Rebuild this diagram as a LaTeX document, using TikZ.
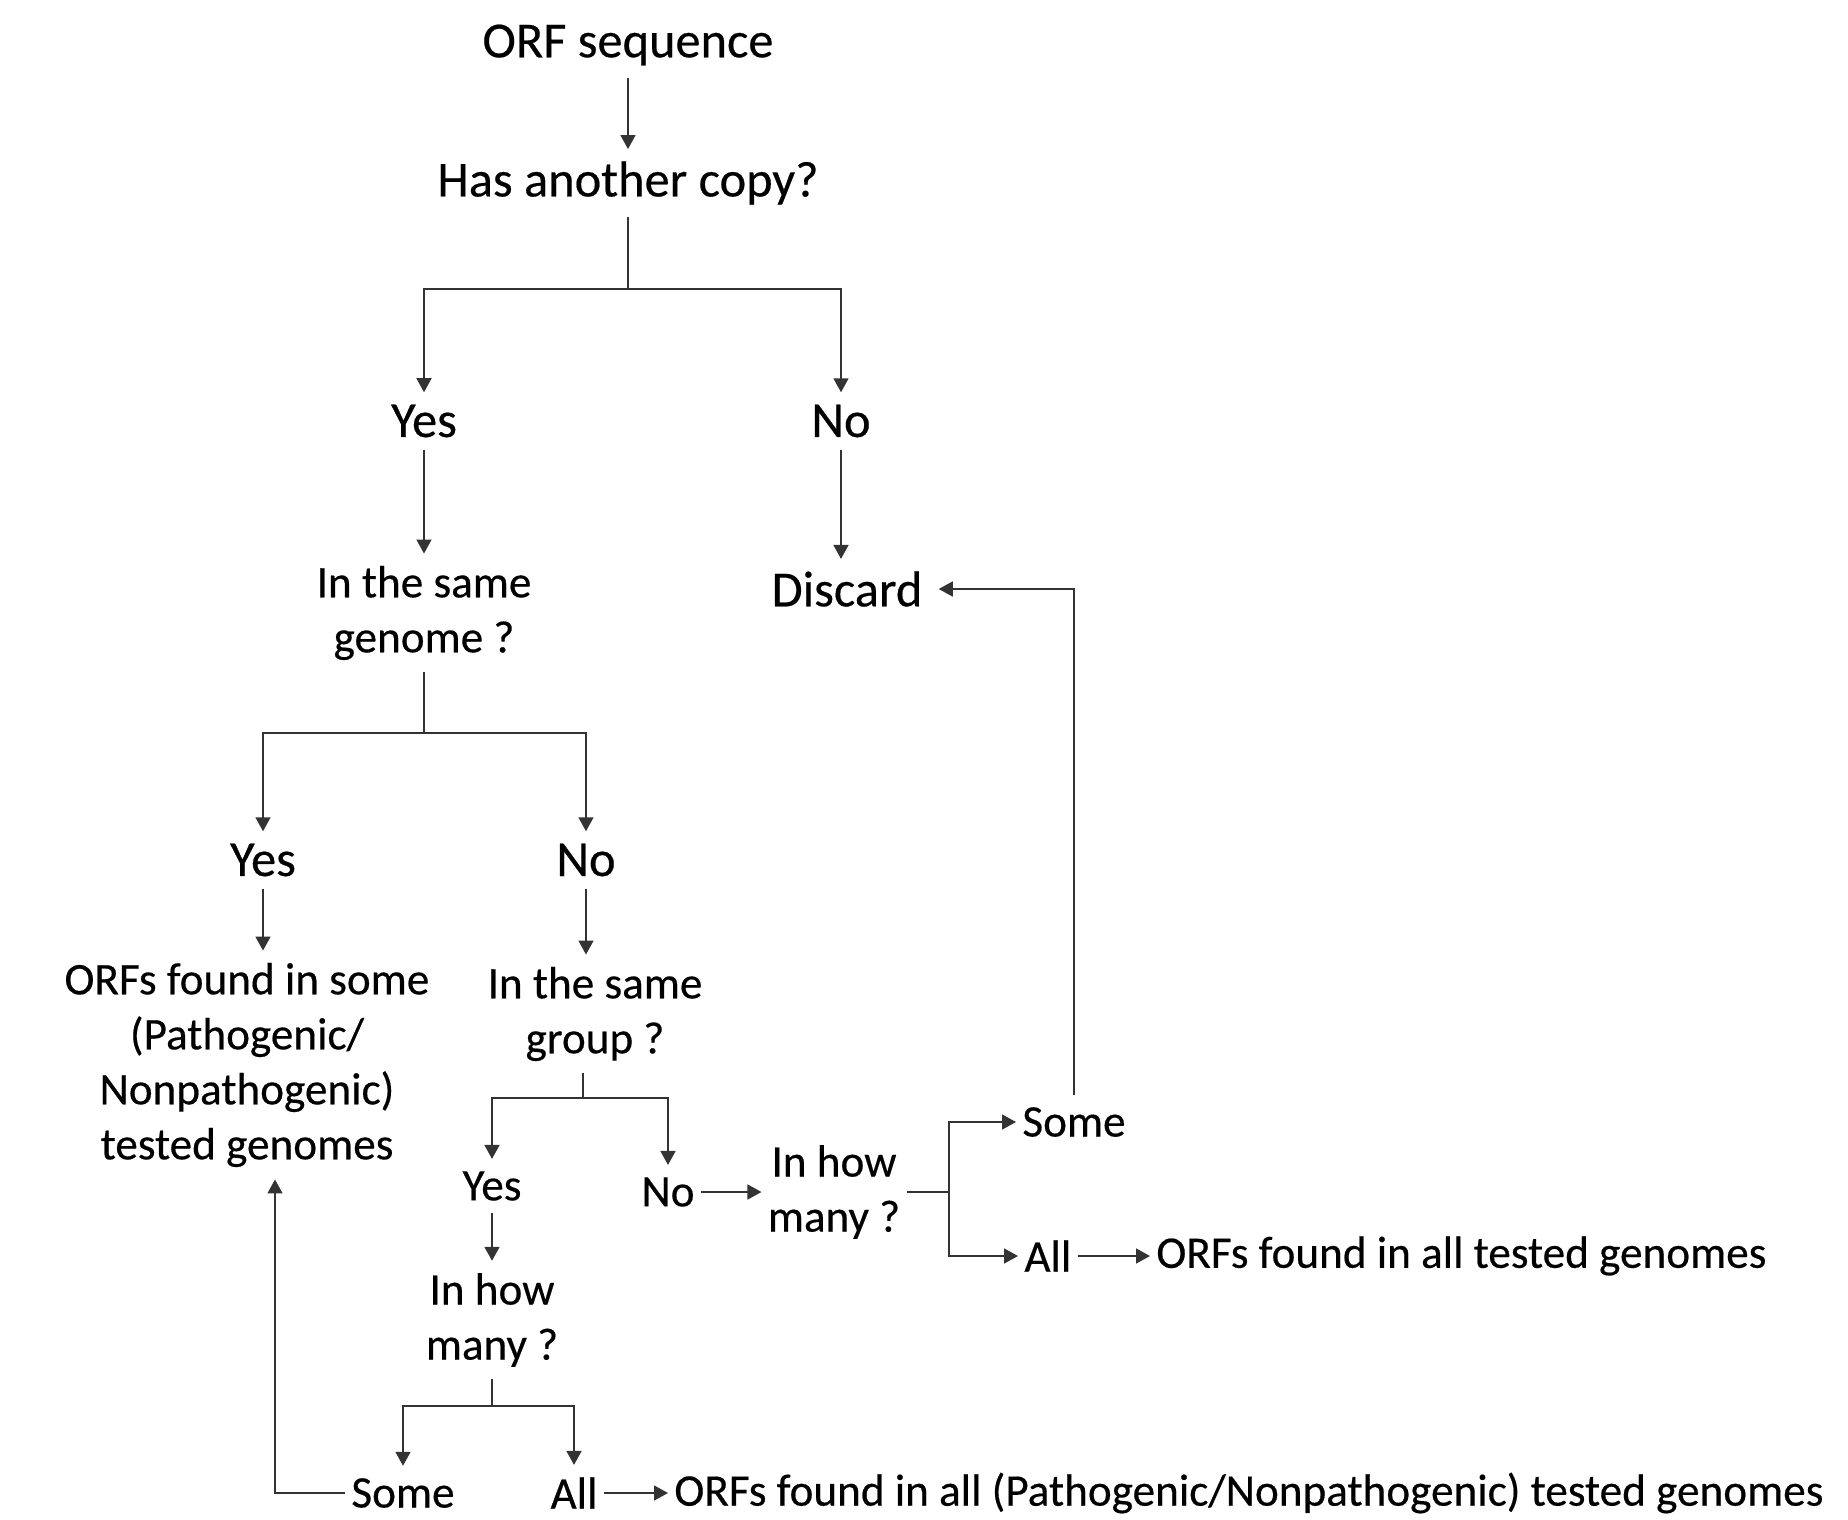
\documentclass[tikz,border=0pt]{standalone}
\usepackage{fontspec}
\setmainfont{Carlito}[FakeBold=0.4]
\usepackage{tikz}
\usetikzlibrary{arrows.meta, positioning}

\begin{document}
\begin{tikzpicture}[x=0.5pt, y=-0.5pt,
  lbl/.style={font=\fontsize{22.6}{27.5}\selectfont, inner xsep=3pt, inner ysep=6pt, align=center},
  biglbl/.style={lbl, font=\fontsize{25.2}{30}\selectfont},
  arr/.style={line, -{Triangle[length=7pt, width=7.5pt]}},
  line/.style={line width=0.8pt, draw=black!80}]
  \useasboundingbox (0,0) rectangle (1848,1520);

  % Top of the tree
  \node[biglbl] (orf) at (628,45) {ORF sequence};
  \node[biglbl] (copy) at (628,183) {Has another copy?};
  \node[biglbl] (yes1) at (424,421) {Yes};
  \node[biglbl] (no1) at (841,421) {No};
  \node[lbl] (genome) at (424,613) {In the same\\genome ?};
  \node[biglbl] (discard) at (847,589) {Discard};

  % Same genome branch
  \node[biglbl] (yes2) at (263,860) {Yes};
  \node[biglbl] (no2) at (586,860) {No};
  \node[lbl] (somegen) at (247,1065) {ORFs found in some\\(Pathogenic/\\Nonpathogenic)\\tested genomes};
  \node[lbl] (group) at (595,1014) {In the same\\group ?};

  % Same group branch
  \node[lbl] (yes3) at (492,1186) {Yes};
  \node[lbl] (no3) at (668,1192) {No};
  \node[lbl] (many1) at (834,1192) {In how\\many ?};
  \node[lbl, anchor=west] (some1) at (1016,1122) {Some};
  \node[lbl, anchor=west] (all1) at (1018,1256) {All};
  \node[lbl, anchor=west] (allgen) at (1150,1256) {ORFs found in all tested genomes};
  \node[lbl] (many2) at (492,1320) {In how\\many ?};
  \node[lbl] (some2) at (403,1493) {Some};
  \node[lbl] (all2) at (574,1493) {All};
  \node[lbl, anchor=west] (allpath) at (668,1493) {ORFs found in all (Pathogenic/Nonpathogenic) tested genomes};

  % Junctions
  \coordinate (j1) at (628,289);
  \coordinate (j2) at (424,733);
  \coordinate (j3) at (583,1098);
  \coordinate (j4) at (492,1406);
  \coordinate (j5) at (949,1192);

  % Connectors
  \draw[arr] (orf) -- (copy);
  \draw[line] (copy) -- (j1);
  \draw[arr] (j1) -| (yes1);
  \draw[arr] (j1) -| (no1);
  \draw[arr] (yes1) -- (genome);
  \draw[arr] (no1) -- (no1 |- discard.north);
  \draw[line] (genome) -- (j2);
  \draw[arr] (j2) -| (yes2);
  \draw[arr] (j2) -| (no2);
  \draw[arr] (yes2) -- (yes2 |- somegen.north);
  \draw[arr] (no2) -- (no2 |- group.north);
  \draw[line] (group.south -| j3) -- (j3);
  \draw[arr] (j3) -| (yes3);
  \draw[arr] (j3) -| (no3);
  \draw[arr] (no3) -- (many1);
  \draw[line] (many1) -- (j5);
  \draw[arr] (j5) |- (some1);
  \draw[arr] (j5) |- (all1);
  \draw[arr] (all1) -- (allgen);
  \draw[arr, shorten >=5pt] (some1.north) |- (discard.east);
  \draw[arr] (yes3) -- (many2);
  \draw[line] (many2) -- (j4);
  \draw[arr] (j4) -| (some2);
  \draw[arr] (j4) -| (all2);
  \draw[arr] (all2) -- (allpath);
  \draw[arr] (some2) -| ([xshift=14pt]somegen.south);
\end{tikzpicture}
\end{document}
